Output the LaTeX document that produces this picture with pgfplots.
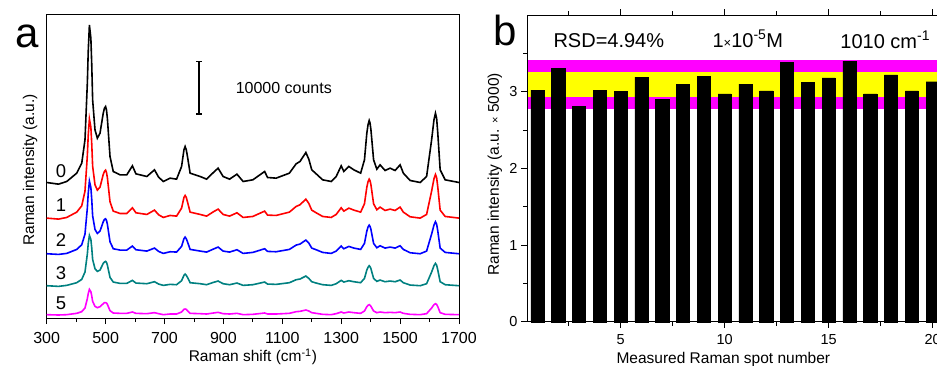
\documentclass[border=0pt]{standalone}
\usepackage{fontspec}
\setmainfont{Liberation Sans}
\usepackage{pgfplots}
\usepackage{pgfplotstable}
\pgfplotsset{compat=1.18}
\definecolor{myteal}{RGB}{0,128,128}
\definecolor{mymag}{RGB}{255,0,255}
\definecolor{myyel}{RGB}{255,255,0}

\pgfplotstableread{
x y0 y1 y2 y3 y5
300 407 300 193 97 10
340 402 297 191 95 9
368 410 302 194 98 10
402 435 318 206 106 14
419 465 337 220 116 19
430 535 381 252 138 30
434 620 434 291 165 44
438 705 488 330 192 58
441 800 548 374 223 73
445 880 598 411 248 86
450 840 573 392 236 79
453 760 522 355 210 66
456 655 456 307 176 50
464 565 400 266 148 35
472 540 384 254 140 31
481 555 393 261 144 34
492 615 431 289 164 43
496 630 440 296 168 46
500 635 444 298 170 46
503 625 437 293 167 45
506 600 422 282 159 41
515 485 349 229 122 22
526 440 321 208 108 15
549 430 314 204 104 14
572 430 314 204 104 14
591 457 331 216 113 18
603 433 316 205 105 14
640 425 311 201 103 13
666 445 324 210 109 16
680 423 310 200 102 13
696 410 302 194 98 10
719 420 308 199 101 12
741 417 306 198 100 12
758 455 330 215 112 18
766 505 362 238 128 26
770 515 368 243 132 27
774 505 362 238 128 26
778 485 349 229 122 22
787 435 318 206 106 14
821 425 311 201 103 13
843 417 306 198 100 12
866 437 319 207 107 15
882 450 327 213 111 17
899 425 311 201 103 13
921 417 306 198 100 12
946 432 316 205 105 14
967 410 302 194 98 10
1000 415 305 197 100 11
1040 440 321 208 108 15
1050 422 309 200 102 12
1079 420 308 199 101 12
1124 435 318 206 106 14
1147 463 335 219 115 19
1160 470 340 222 117 20
1180 497 357 234 126 24
1190 477 344 225 119 21
1200 445 324 210 109 16
1215 433 316 205 105 14
1237 415 305 197 100 11
1266 410 302 194 98 10
1283 425 311 201 103 13
1300 457 331 216 113 18
1309 440 321 208 108 15
1326 455 330 215 112 18
1343 445 324 210 109 16
1366 435 318 206 106 14
1379 475 343 224 119 21
1387 555 393 261 144 34
1391 580 409 273 152 38
1395 593 417 279 157 40
1398 585 412 275 154 38
1401 565 400 266 148 35
1410 475 343 224 119 21
1421 447 325 211 110 16
1432 460 333 217 114 18
1449 443 323 210 109 16
1466 450 327 213 111 17
1483 443 323 210 109 16
1500 460 333 217 114 18
1511 435 318 206 106 14
1534 413 304 196 99 11
1568 407 300 193 97 10
1590 425 311 201 103 13
1607 535 381 252 138 30
1615 595 418 279 157 40
1620 615 431 289 164 43
1624 600 422 282 159 41
1628 555 393 261 144 34
1636 445 324 210 109 16
1653 415 305 197 100 11
1700 407 300 193 97 10
}\spectra

\pgfplotstableread{
spot val
1 3.02
2 3.30
3 2.81
4 3.02
5 3.00
6 3.19
7 2.90
8 3.10
9 3.20
10 2.97
11 3.10
12 3.01
13 3.38
14 3.12
15 3.18
16 3.40
17 2.97
18 3.22
19 3.01
20 3.13
}\spots

\begin{document}
\begin{tikzpicture}
\pgfplotsset{every axis/.append style={
  scale only axis, anchor=south west, clip=false,
  axis line style={line width=0.9pt},
  tick style={line width=0.9pt, black},
  tick align=outside, tick pos=left,
  major tick length=6pt, minor tick length=4pt,
  /pgf/number format/assume math mode=true,
  /pgf/number format/1000 sep={},
}}
% ---------------- panel a
\begin{axis}[
  at={(46.7pt,47pt)}, width=412.3pt, height=304pt,
  xmin=300, xmax=1700, ymin=0, ymax=913,
  xtick={300,500,...,1700}, minor xtick={400,600,...,1600},
  ytick=\empty,
  ticklabel style={font=\fontsize{16}{19}\selectfont},
  xticklabel style={yshift=-4.5pt},
  label style={font=\fontsize{15.5}{18}\selectfont},
  xlabel={Raman shift (cm\textsuperscript{-1})},
  xlabel style={at={(axis description cs:0.5,-0.1447)}, anchor=base},
  ylabel={Raman intensity (a.u.)},
  ylabel style={at={(axis description cs:-0.0405,0.487)}, anchor=center},
]
\addplot[black, line width=1.6pt] table[x=x, y=y0] {\spectra};
\addplot[red, line width=1.6pt] table[x=x, y=y1] {\spectra};
\addplot[blue, line width=1.6pt] table[x=x, y=y2] {\spectra};
\addplot[myteal, line width=1.6pt] table[x=x, y=y3] {\spectra};
\addplot[mymag, line width=1.6pt] table[x=x, y=y5] {\spectra};
\addplot[black, line width=1.3pt, mark=-, mark size=3pt, mark options={line width=1.3pt}] coordinates {(817,613) (817,770)};
\node[anchor=base west, font=\fontsize{16}{19}\selectfont] at (axis cs:930,675) {10000 counts};
\begin{scope}[font=\fontsize{18.5}{22}\selectfont]
\node at (axis cs:349,440) {0};
\node at (axis cs:349,338) {1};
\node at (axis cs:349,235) {2};
\node at (axis cs:349,135) {3};
\node at (axis cs:349,45) {5};
\end{scope}
\node[anchor=base west, font=\fontsize{42}{48}\selectfont] at (axis description cs:-0.084,0.891) {a};
\end{axis}
% ---------------- panel b
\begin{axis}[
  at={(527pt,43.3pt)}, width=416pt, height=306.7pt,
  xmin=0.5, xmax=20.5, ymin=0, ymax=4,
  axis x line*=box, axis y line*=left,
  xtick={5,10,15,20}, minor xtick={2.5,7.5,12.5,17.5},
  ytick={0,1,2,3}, minor ytick={0.5,1.5,2.5,3.5},
  ticklabel style={font=\fontsize{14.5}{17}\selectfont},
  xticklabel style={yshift=-3pt},
  label style={font=\fontsize{15.5}{18}\selectfont},
  xlabel={Measured Raman spot number},
  xlabel style={at={(axis description cs:0.472,-0.1347)}, anchor=base},
  ylabel={Raman intensity (a.u. {\fontsize{11}{12}\selectfont ×} 5000)},
  ylabel style={at={(axis description cs:-0.077,0.48)}, anchor=center},
  axis on top,
]
\addplot[draw=none, fill=mymag] coordinates {(0.5,2.78) (20.5,2.78) (20.5,3.41) (0.5,3.41)} -- cycle;
\addplot[draw=none, fill=myyel] coordinates {(0.5,2.93) (20.5,2.93) (20.5,3.26) (0.5,3.26)} -- cycle;
\addplot[ybar, bar width=0.63, fill=black, draw=black] table[x=spot, y=val] {\spots};
\begin{scope}[font=\fontsize{20}{24}\selectfont]
\node[anchor=base west] at (axis cs:1.606,3.578) {RSD=4.94\%};
\node[anchor=base west] at (axis cs:9.25,3.578) {1{\fontsize{13}{14}\selectfont ×}10\textsuperscript{-5}M};
\node[anchor=base west] at (axis cs:15.4,3.565) {1010 cm\textsuperscript{-1}};
\end{scope}
\node[anchor=base west, font=\fontsize{42}{48}\selectfont] at (axis description cs:-0.089,0.902) {b};
\end{axis}
\pgfresetboundingbox
\useasboundingbox (0pt,0pt) rectangle (937pt,365pt);
\end{tikzpicture}
\end{document}
